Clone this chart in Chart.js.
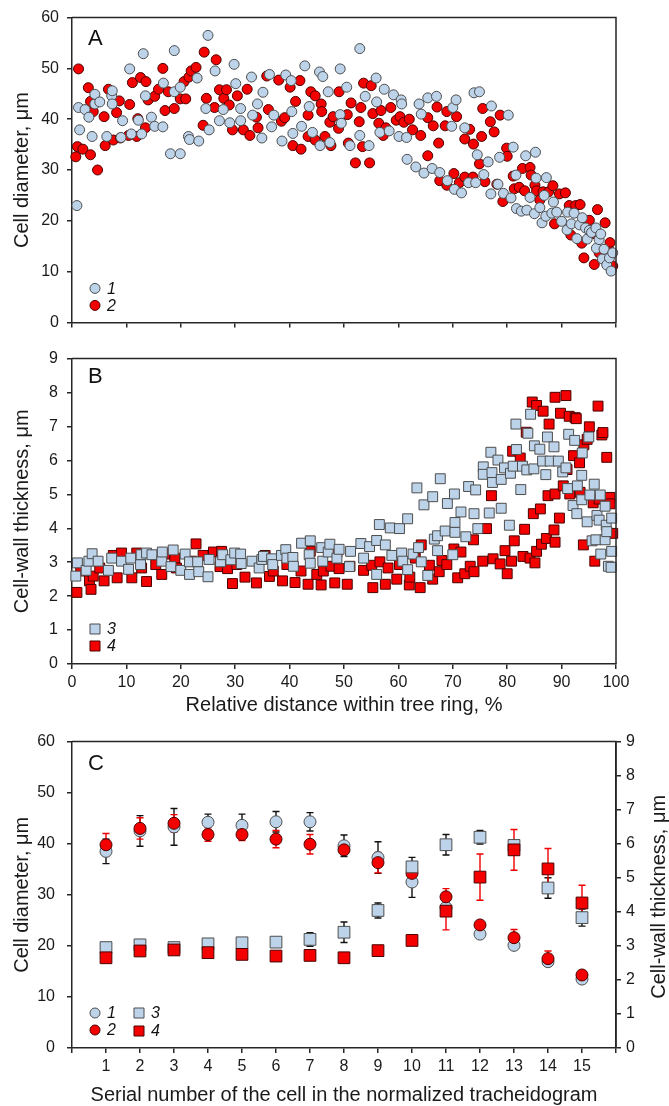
<!DOCTYPE html>
<html>
<head>
<meta charset="utf-8">
<script src="https://cdn.jsdelivr.net/npm/chart.js@4.4.0/dist/chart.umd.min.js"></script>
<style>
  body { margin: 0; background: #fff; width: 669px; height: 1106px; overflow: hidden; position: relative; }
  canvas { position: absolute; left: 0; }
</style>
</head>
<body>
<canvas id="chartA" width="669" height="340" style="top:0px"></canvas>
<canvas id="chartB" width="669" height="380" style="top:340px"></canvas>
<canvas id="chartC" width="669" height="386" style="top:720px"></canvas>
<script>
// panel A: cell diameter vs relative distance (%)
const a1X = [0.9,1.2,1.4,2.4,3.1,3.7,4.2,4.2,5.1,6.4,7.3,7.4,7.4,9.0,9.3,10.6,10.9,12.2,12.8,13.1,13.5,14.6,15.2,16.7,16.8,18.1,18.8,18.8,19.9,19.9,21.4,21.6,23.0,23.3,24.6,25.0,25.2,26.3,27.1,27.8,29.0,29.8,30.1,31.0,31.0,33.0,33.2,34.1,34.9,35.1,36.3,36.7,37.1,38.6,39.3,40.3,40.4,40.6,42.2,42.8,43.6,44.2,45.5,45.6,46.1,47.1,47.4,49.3,49.3,49.5,50.5,51.1,52.9,52.9,53.9,54.6,55.9,56.0,56.6,57.4,58.3,59.1,60.1,60.5,60.6,61.5,61.6,63.2,63.8,64.2,64.7,65.4,66.2,67.0,67.6,69.0,69.8,70.0,70.3,70.6,71.6,72.2,72.9,73.9,74.2,74.5,74.9,75.7,76.5,77.0,77.1,78.3,78.6,79.3,80.2,80.7,81.1,81.6,81.7,82.6,83.4,83.6,84.2,85.0,85.2,85.3,86.0,86.4,86.8,87.1,87.2,88.2,88.5,89.1,90.0,91.0,91.1,91.8,92.3,92.8,93.3,93.8,94.4,94.7,95.1,95.5,96.3,96.4,96.9,97.2,97.5,97.8,98.3,98.8,99.1,99.4];
const a1Y = [23.0,42.3,37.9,41.9,40.4,36.6,43.0,44.9,43.4,36.6,44.6,45.6,43.0,36.4,39.7,49.9,37.1,39.8,37.1,52.9,44.6,40.4,38.6,38.5,47.1,33.2,53.5,45.4,33.2,46.3,36.6,36.0,48.1,35.7,42.1,56.5,37.9,49.5,39.7,41.9,39.3,50.8,47.0,42.1,39.7,48.3,40.8,43.0,36.3,45.3,48.8,38.5,40.8,35.7,48.7,47.6,41.5,37.2,38.6,50.5,42.5,37.4,49.3,34.8,48.4,45.4,35.4,49.9,40.9,39.2,46.3,34.8,53.9,36.8,44.5,34.8,48.1,43.4,37.4,45.9,37.7,44.8,36.6,43.8,43.0,36.4,32.1,30.6,43.0,41.0,29.4,44.2,30.3,44.5,29.5,27.9,38.6,42.3,26.2,43.8,25.5,38.3,27.5,45.2,27.5,33.0,45.4,29.1,31.6,25.3,42.6,27.2,32.5,25.4,40.8,24.5,34.5,29.0,22.4,21.9,32.8,22.1,24.6,21.4,33.5,28.4,22.6,19.6,25.0,20.9,28.5,21.5,23.7,21.7,19.9,18.2,21.7,19.4,21.5,16.5,19.2,20.6,18.6,16.4,18.1,17.7,18.6,14.6,16.3,17.4,12.5,14.4,11.3,12.7,10.1,13.7];
const a2X = [0.7,1.0,1.2,2.0,3.0,3.4,3.4,3.9,4.7,5.9,6.1,6.7,7.6,8.2,8.7,8.9,10.4,10.6,11.1,11.9,12.1,12.6,13.5,13.6,14.0,15.2,15.9,16.7,17.1,17.7,18.8,19.9,20.6,20.9,21.5,21.9,22.8,24.1,24.3,24.7,26.2,26.5,27.1,27.9,28.4,28.9,29.5,30.4,31.5,32.2,32.7,33.9,34.2,35.8,36.1,38.0,38.5,39.1,40.1,40.6,41.1,41.9,42.1,43.4,43.4,43.9,44.7,44.7,45.8,45.9,46.5,47.4,47.6,48.0,49.0,49.1,50.6,50.8,51.3,52.1,52.8,53.1,53.4,53.6,54.7,55.0,55.3,56.4,56.8,57.2,57.7,58.6,59.6,60.3,61.0,62.0,62.6,64.1,65.4,65.4,66.4,67.1,67.4,67.6,68.6,68.9,68.9,70.2,70.7,71.2,72.2,72.2,73.1,73.7,73.8,74.9,75.3,75.5,75.9,76.9,77.6,78.1,78.7,79.2,79.9,80.0,81.1,81.3,82.2,82.8,83.2,84.2,84.4,85.1,85.4,86.0,86.6,87.6,88.4,88.7,89.6,90.7,91.4,91.7,92.6,93.4,93.7,94.1,94.3,95.1,95.8,96.0,96.6,96.9,98.0,98.9,99.0,99.4];
const a2Y = [32.6,34.6,49.9,34.1,46.2,43.5,33.0,41.5,30.0,40.5,34.8,45.9,35.9,41.3,43.6,36.3,36.8,42.9,47.2,36.6,40.1,48.2,38.3,47.4,43.8,44.5,45.9,50.0,41.7,45.4,42.1,44.0,47.4,44.0,48.3,49.5,50.2,38.8,53.2,44.1,42.3,51.7,45.8,44.1,45.8,42.8,37.9,44.6,37.9,45.9,36.8,40.4,38.3,48.5,41.9,47.7,39.6,40.3,46.3,34.8,43.5,47.6,34.1,40.8,36.6,45.4,44.6,35.9,43.0,41.5,36.6,39.4,34.8,40.5,38.2,45.4,40.9,35.3,43.2,31.4,39.5,42.3,34.6,47.1,31.4,46.6,41.1,39.2,41.7,36.8,38.3,42.3,39.8,40.5,39.4,40.0,37.9,36.8,40.3,32.8,38.7,42.4,35.3,27.9,38.7,41.5,27.0,29.3,40.5,27.5,36.1,28.6,38.0,28.6,35.1,31.2,36.6,42.1,27.7,39.5,37.5,27.2,40.8,23.8,34.3,32.7,28.8,26.3,26.6,30.3,25.9,30.5,29.0,27.0,25.9,24.1,25.7,25.7,26.9,19.4,25.3,25.5,23.0,17.2,23.0,23.2,15.6,12.7,19.8,20.1,17.5,11.4,22.2,13.7,19.6,15.7,13.9,11.1];

// panel B: cell-wall thickness vs relative distance (%)
const b3X = [0.7,1.0,2.6,3.1,3.7,4.8,6.7,7.3,9.1,10.4,10.8,12.6,12.7,13.7,14.7,16.5,16.6,18.2,18.6,20.0,20.8,21.6,21.6,23.1,23.3,25.0,25.2,27.3,27.7,29.2,29.9,31.0,31.1,33.1,34.4,34.9,35.2,36.7,36.9,38.5,39.3,39.5,40.6,40.7,42.2,43.6,43.8,43.8,45.9,46.1,47.1,47.4,48.7,49.1,51.0,51.2,53.1,53.6,54.7,56.0,56.0,56.5,57.6,58.5,58.8,60.2,60.6,60.8,61.7,61.7,62.7,63.4,63.7,64.2,64.7,65.4,66.3,66.6,67.2,67.2,67.7,68.6,69.0,70.0,70.3,70.4,70.4,71.5,72.4,72.9,73.9,74.2,74.6,75.6,75.6,76.7,77.0,77.2,77.3,78.3,78.9,78.9,79.5,80.4,80.6,81.1,81.6,81.7,82.5,82.8,83.6,83.8,84.3,84.9,85.0,86.0,86.5,87.1,87.4,87.9,88.6,89.4,90.2,90.8,91.1,91.3,92.1,92.4,92.8,92.9,93.7,93.7,93.8,94.7,95.0,95.2,95.6,96.0,96.3,96.5,96.9,97.1,97.2,98.0,98.0,98.2,98.3,98.6,99.1,99.2,99.2];
const b3Y = [2.59,2.98,2.76,3.03,3.25,3.03,2.76,3.12,3.03,2.79,3.12,2.93,3.22,3.27,3.22,3.03,3.30,2.87,3.36,2.76,3.24,3.01,2.64,3.01,2.72,2.57,3.08,3.01,3.22,3.07,3.27,3.24,2.96,3.03,2.83,3.08,3.17,3.10,2.93,3.20,3.37,3.12,3.14,2.88,3.56,3.22,3.63,2.97,3.43,3.03,3.30,3.53,3.12,3.38,2.87,3.32,3.55,3.12,3.46,3.64,2.64,4.11,3.51,4.01,3.20,3.99,3.27,3.03,4.28,2.78,3.24,5.19,3.43,3.01,4.69,2.61,4.93,3.68,3.78,3.34,5.46,3.92,4.73,3.22,5.01,4.17,3.88,4.48,3.75,5.23,4.43,5.13,3.99,5.81,5.59,4.45,6.24,5.64,5.35,6.01,5.44,4.59,5.78,4.09,5.62,5.83,7.07,6.32,5.14,5.83,5.72,6.80,7.36,5.75,6.43,6.33,5.98,5.58,6.69,5.98,6.40,5.98,5.66,5.78,5.17,6.77,4.67,6.59,4.43,5.25,5.56,4.84,6.22,4.19,6.69,4.98,3.63,5.30,3.66,4.38,4.24,4.98,3.24,3.66,4.65,4.09,3.90,2.88,2.85,4.30,3.32];
const b4X = [0.9,1.6,3.2,3.5,3.9,5.1,5.9,7.6,8.3,9.1,11.0,11.9,12.8,13.7,15.4,16.5,17.1,18.9,19.2,22.0,22.8,24.1,26.0,27.2,27.5,28.6,29.5,30.3,31.8,33.9,35.5,36.3,37.0,38.7,39.5,41.0,42.1,43.4,43.8,45.0,45.8,46.2,47.6,48.3,48.7,49.1,50.6,51.1,53.6,55.1,55.3,56.6,57.6,58.1,59.7,60.2,62.0,62.1,63.1,64.0,64.2,65.7,66.3,67.5,68.0,68.9,70.2,70.9,71.5,72.2,73.2,73.8,73.9,75.5,76.2,77.1,77.4,78.7,79.6,80.0,80.8,81.0,81.3,82.4,82.9,83.2,83.5,84.2,84.6,84.8,85.1,85.4,85.4,86.1,86.3,86.6,87.2,87.5,87.7,88.6,88.8,88.8,88.8,89.6,89.8,90.3,90.8,91.0,91.4,91.5,92.2,92.5,92.7,93.3,93.4,94.0,94.1,94.7,95.1,95.8,96.1,96.7,96.9,97.4,97.6,98.3,98.9,98.9,99.4];
const b4Y = [2.11,2.74,2.45,2.20,2.59,2.83,2.45,3.20,2.54,3.27,2.54,3.27,2.83,2.43,2.93,2.64,3.24,3.12,2.83,3.03,3.54,3.20,3.30,2.87,3.32,2.81,2.37,2.93,2.56,2.39,3.20,2.58,2.74,2.45,2.93,2.40,2.74,2.35,3.32,2.64,2.33,2.74,2.88,2.39,3.30,2.81,2.35,2.88,2.76,2.91,2.25,3.01,2.35,2.83,2.50,2.93,2.33,2.56,3.12,2.25,3.51,2.91,2.50,2.72,3.05,2.93,3.39,2.54,3.30,2.66,2.88,3.66,2.72,3.03,3.99,4.96,3.10,2.95,3.34,2.66,3.03,6.27,3.63,6.07,3.17,3.97,6.83,3.12,7.72,4.43,2.98,7.62,3.32,4.57,3.53,7.45,3.70,4.96,7.07,3.95,7.86,3.59,5.01,4.30,7.39,5.25,7.91,5.73,7.30,5.01,6.14,7.26,7.23,5.93,5.06,3.51,6.46,6.62,6.99,4.75,3.03,7.60,4.86,6.75,6.82,6.09,4.91,4.72,3.85];

// panel C: means of the normalized tracheidogram (+/- error)
const cells = [1,2,3,4,5,6,7,8,9,10,11,12,13,14,15];
const c1 = [38.5,42.5,43.3,44.2,43.6,44.3,44.3,39.6,37.3,32.5,27.5,22.3,20.1,16.9,13.5];
const c1Err = [2.4,3.0,3.6,1.6,2.2,2.0,1.8,2.1,3.1,3.0,0.8,0.5,0.5,0.5,0.4];
const c2 = [39.8,43.0,44.0,41.8,41.8,40.9,39.9,38.8,36.3,34.2,29.6,24.1,21.6,17.5,14.3];
const c2Err = [2.2,2.1,1.7,1.3,1.2,1.7,1.9,0.9,2.0,0.8,1.6,0.6,1.6,1.5,0.5];
const c3 = [2.95,3.03,2.95,3.06,3.09,3.11,3.19,3.40,4.04,5.32,5.97,6.19,5.95,4.70,3.83];
const c3Err = [0.1,0.1,0.1,0.1,0.1,0.1,0.2,0.3,0.22,0.28,0.3,0.2,0.1,0.3,0.25];
const c4 = [2.65,2.85,2.88,2.80,2.75,2.70,2.72,2.65,2.86,3.16,4.02,5.02,5.82,5.26,4.26];
const c4Err = [0.1,0.1,0.1,0.1,0.1,0.1,0.1,0.1,0.1,0.1,0.55,0.68,0.6,0.6,0.52];

const FONT = "'Liberation Sans', Arial, sans-serif";
const AXIS = '#262626';
const BLUE = '#bcd3ea';
const BLUE_EDGE = '#4d4d4d';
const RED = '#f50000';
const RED_EDGE = '#4a0000';

Chart.defaults.font.family = FONT;
Chart.defaults.color = '#1a1a1a';

const pts = (xs, ys) => xs.map((x, i) => ({ x: x, y: ys[i] }));

function marker(style, fill, edge, radius) {
  return {
    pointStyle: style, pointRadius: radius, pointHoverRadius: radius,
    backgroundColor: fill, borderColor: edge, borderWidth: 1, clip: false,
  };
}

function axisLook(tickPad) {
  return {
    grid: { drawOnChartArea: false, color: AXIS, lineWidth: 1.5, tickLength: 5 },
    border: { color: AXIS, width: 1.5 },
    ticks: { font: { size: 16 }, padding: tickPad, color: '#1a1a1a' },
  };
}

// frame, panel letter, legend, error bars, right title
function decor(cfg) {
  return {
    id: 'decor',
    beforeDatasetsDraw(chart) {
      if (!cfg.errors) return;
      const ctx = chart.ctx;
      ctx.save();
      cfg.errors.forEach(e => {
        const ds = chart.data.datasets[e.dataset];
        const ys = chart.scales[ds.yAxisID || 'y'];
        const xs = chart.scales.x;
        ctx.strokeStyle = e.color;
        ctx.lineWidth = 1.4;
        ds.data.forEach((p, i) => {
          const d = e.err[i];
          if (!d) return;
          const px = xs.getPixelForValue(p.x);
          const y1 = ys.getPixelForValue(p.y + d);
          const y2 = ys.getPixelForValue(p.y - d);
          ctx.beginPath();
          ctx.moveTo(px, y1); ctx.lineTo(px, y2);
          ctx.moveTo(px - 3.5, y1); ctx.lineTo(px + 3.5, y1);
          ctx.moveTo(px - 3.5, y2); ctx.lineTo(px + 3.5, y2);
          ctx.stroke();
        });
      });
      ctx.restore();
    },
    afterDraw(chart) {
      const ctx = chart.ctx;
      const a = chart.chartArea;
      ctx.save();
      ctx.strokeStyle = AXIS;
      ctx.lineWidth = 1.5;
      ctx.beginPath();
      ctx.moveTo(a.left, a.top);
      ctx.lineTo(a.right, a.top);
      ctx.lineTo(a.right, a.bottom);
      ctx.stroke();

      ctx.fillStyle = '#111';
      ctx.font = '22px ' + FONT;
      ctx.textAlign = 'left';
      ctx.textBaseline = 'alphabetic';
      ctx.fillText(cfg.letter, 88, cfg.letterY);

      ctx.font = 'italic 16px ' + FONT;
      ctx.textBaseline = 'middle';
      cfg.legend.forEach(it => {
        const x = a.left + it.dx;
        const y = a.bottom - it.dy;
        ctx.fillStyle = it.fill;
        ctx.strokeStyle = it.edge;
        ctx.lineWidth = 1;
        ctx.beginPath();
        if (it.style === 'circle') ctx.arc(x, y, 5, 0, Math.PI * 2);
        else ctx.rect(x - 5, y - 5, 10, 10);
        ctx.fill();
        ctx.stroke();
        ctx.fillStyle = '#111';
        ctx.fillText(it.label, x + 12, y + 1);
      });

      if (cfg.rightTitle) {
        ctx.translate(659, (a.top + a.bottom) / 2 + 2);
        ctx.rotate(-Math.PI / 2);
        ctx.font = '20px ' + FONT;
        ctx.textAlign = 'center';
        ctx.fillStyle = '#1a1a1a';
        ctx.fillText(cfg.rightTitle, 0, 0);
      }
      ctx.restore();
    },
  };
}

const base = {
  responsive: false,
  animation: false,
  events: [],
  plugins: { legend: { display: false }, tooltip: { enabled: false } },
};

// ---- A ----
new Chart(document.getElementById('chartA'), {
  type: 'scatter',
  data: {
    datasets: [
      Object.assign({ label: '1', data: pts(a1X, a1Y) }, marker('circle', BLUE, BLUE_EDGE, 5)),
      Object.assign({ label: '2', data: pts(a2X, a2Y) }, marker('circle', RED, RED_EDGE, 5)),
    ],
  },
  options: Object.assign({}, base, {
    layout: { padding: { top: 14, right: 53, left: 0, bottom: 0 } },
    scales: {
      x: Object.assign(axisLook(4), {
        type: 'linear', min: 0, max: 100,
        ticks: { display: false, stepSize: 10 },
        afterFit: s => { s.height = 16; },
      }),
      y: Object.assign(axisLook(8), {
        min: 0, max: 60,
        title: { display: true, text: 'Cell diameter, μm', font: { size: 20 }, padding: { top: 10, bottom: 0 }, color: '#1a1a1a' },
        afterFit: s => { s.width = 72; },
      }),
    },
  }),
  plugins: [decor({
    letter: 'A', letterY: 45,
    legend: [
      { label: '1', style: 'circle', fill: BLUE, edge: BLUE_EDGE, dx: 23, dy: 34 },
      { label: '2', style: 'circle', fill: RED, edge: RED_EDGE, dx: 23, dy: 17 },
    ],
  })],
});
// stepSize for y ticks
Chart.getChart('chartA').options.scales.y.ticks.stepSize = 10;
Chart.getChart('chartA').update();

// ---- B ----
new Chart(document.getElementById('chartB'), {
  type: 'scatter',
  data: {
    datasets: [
      Object.assign({ label: '3', data: pts(b3X, b3Y) }, marker('rect', BLUE, BLUE_EDGE, 7)),
      Object.assign({ label: '4', data: pts(b4X, b4Y) }, marker('rect', RED, RED_EDGE, 7)),
    ],
  },
  options: Object.assign({}, base, {
    layout: { padding: { top: 14, right: 53, left: 0, bottom: 0 } },
    scales: {
      x: (function () {
        const s = axisLook(4);
        s.type = 'linear'; s.min = 0; s.max = 100;
        s.ticks.stepSize = 10;
        s.title = { display: true, text: 'Relative distance within tree ring, %', font: { size: 20 }, padding: { top: 0, bottom: 3 }, color: '#1a1a1a' };
        s.afterFit = sc => { sc.height = 56; };
        return s;
      })(),
      y: (function () {
        const s = axisLook(9);
        s.min = 0; s.max = 9;
        s.ticks.stepSize = 1;
        s.title = { display: true, text: 'Cell-wall thickness, μm', font: { size: 20 }, padding: { top: 10, bottom: 0 }, color: '#1a1a1a' };
        s.afterFit = sc => { sc.width = 72; };
        return s;
      })(),
    },
  }),
  plugins: [decor({
    letter: 'B', letterY: 43,
    legend: [
      { label: '3', style: 'rect', fill: BLUE, edge: BLUE_EDGE, dx: 23, dy: 35 },
      { label: '4', style: 'rect', fill: RED, edge: RED_EDGE, dx: 23, dy: 18 },
    ],
  })],
});

// ---- C ----
new Chart(document.getElementById('chartC'), {
  type: 'scatter',
  data: {
    datasets: [
      Object.assign({ label: '4', data: pts(cells, c4), yAxisID: 'y2' }, marker('rect', RED, RED_EDGE, 8.3)),
      Object.assign({ label: '3', data: pts(cells, c3), yAxisID: 'y2' }, marker('rect', BLUE, BLUE_EDGE, 8.3)),
      Object.assign({ label: '2', data: pts(cells, c2), yAxisID: 'y' }, marker('circle', RED, RED_EDGE, 6)),
      Object.assign({ label: '1', data: pts(cells, c1), yAxisID: 'y' }, marker('circle', BLUE, BLUE_EDGE, 6)),
    ],
  },
  options: Object.assign({}, base, {
    layout: { padding: { top: 16, right: 0, left: 0, bottom: 0 } },
    scales: {
      x: (function () {
        const s = axisLook(4);
        s.type = 'linear'; s.min = 0; s.max = 16;
        s.ticks.stepSize = 1;
        s.ticks.callback = v => (v >= 1 && v <= 15 ? String(v) : '');
        s.title = { display: true, text: 'Serial number of the cell in the normalized tracheidogram', font: { size: 20, lineHeight: 1.1 }, padding: { top: 0, bottom: 0 }, color: '#1a1a1a' };
        s.afterFit = sc => { sc.height = 58; };
        return s;
      })(),
      y: (function () {
        const s = axisLook(12);
        s.min = 0; s.max = 60;
        s.ticks.stepSize = 10;
        s.title = { display: true, text: 'Cell diameter, μm', font: { size: 20 }, padding: { top: 10, bottom: 0 }, color: '#1a1a1a' };
        s.afterFit = sc => { sc.width = 72; };
        return s;
      })(),
      y2: (function () {
        const s = axisLook(5);
        s.position = 'right';
        s.min = 0; s.max = 9;
        s.ticks.stepSize = 1;
        s.afterFit = sc => { sc.width = 53; };
        return s;
      })(),
    },
  }),
  plugins: [decor({
    letter: 'C', letterY: 50,
    rightTitle: 'Cell-wall thickness, μm',
    errors: [
      { dataset: 3, err: c1Err, color: '#111' },
      { dataset: 2, err: c2Err, color: '#f00000' },
      { dataset: 1, err: c3Err, color: '#111' },
      { dataset: 0, err: c4Err, color: '#f00000' },
    ],
    legend: [
      { label: '1', style: 'circle', fill: BLUE, edge: BLUE_EDGE, dx: 23, dy: 35 },
      { label: '2', style: 'circle', fill: RED, edge: RED_EDGE, dx: 23, dy: 18 },
      { label: '3', style: 'rect', fill: BLUE, edge: BLUE_EDGE, dx: 67, dy: 35 },
      { label: '4', style: 'rect', fill: RED, edge: RED_EDGE, dx: 67, dy: 17 },
    ],
  })],
});
</script>
</body>
</html>
